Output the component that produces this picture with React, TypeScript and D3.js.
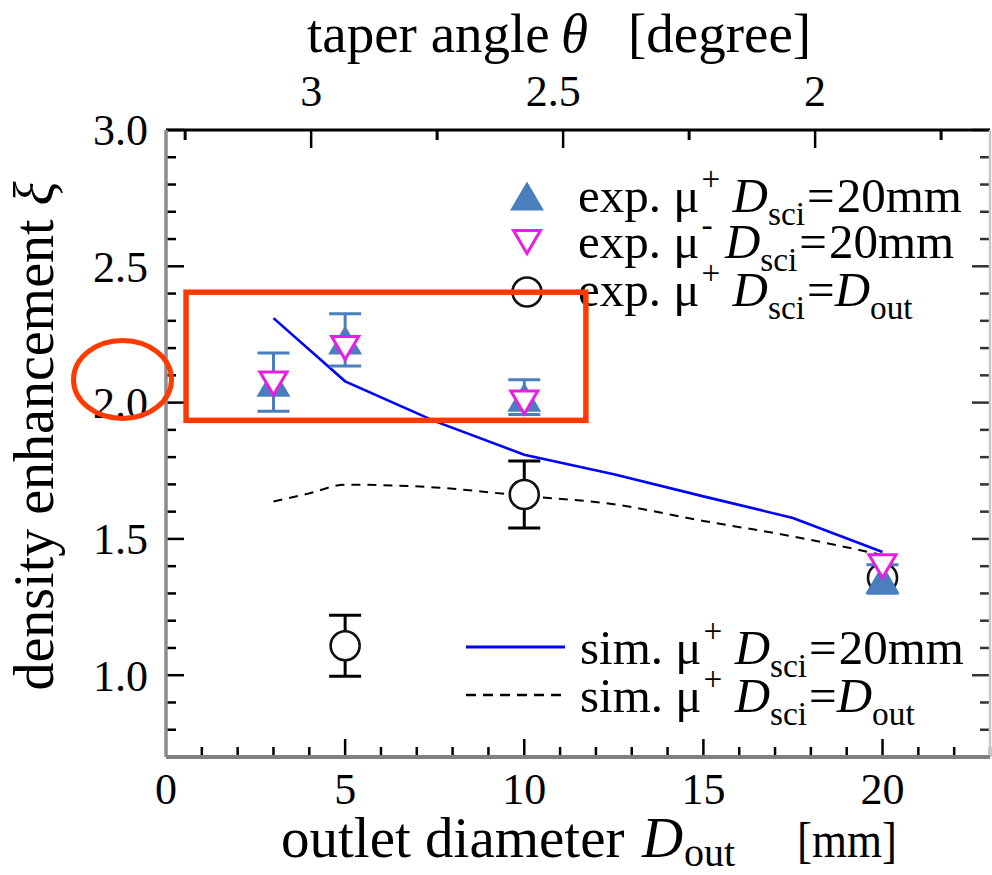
import React from "react";
import * as d3 from "d3";

// outlet diameters [mm] and measured density enhancement
const expD = [3, 5, 10, 20];
const expMuPlus = [2.075, 2.23, 2.02, 1.353];
const expMuPlusErr = [0.107, 0.096, 0.064, 0.052];
const expMuMinus = [2.07, 2.2, 2.0, 1.4];

const expOutD = [5, 10, 20];
const expOutXi = [1.108, 1.663, 1.357];
const expOutErr = [0.112, 0.123, 0];

// simulation curves
const simD20 = [3, 5, 7.5, 10, 12.5, 15, 17.5, 20];
const simXi20 = [2.31, 2.078, 1.932, 1.809, 1.737, 1.656, 1.577, 1.452];
const simDOut = [3, 4, 5, 7.5, 10, 12.5, 15, 17.5, 20];
const simXiOut = [1.637, 1.667, 1.699, 1.689, 1.658, 1.627, 1.566, 1.509, 1.441];

// axes
const xTickLabels = [0, 5, 10, 15, 20];
const yTickLabels = ["1.0", "1.5", "2.0", "2.5", "3.0"];
const topTickLabels = ["3", "2.5", "2"];
const topMinor = [3.25, 2.75, 2.25, 1.75];

const W = 992;
const H = 875;
const L = 166, R = 990, T = 130, B = 757;

const x = d3.scaleLinear().domain([0, 23]).range([L, R]);
const y = d3.scaleLinear().domain([0.7, 3.0]).range([B, T]);
const xTop = d3.scaleLinear().domain([3.288, 1.653]).range([L, R]);

const FONT = "'Liberation Serif', 'Times New Roman', serif";
const BLUE = "#4a7ebc";
const MAG = "#e61ee6";
const RED = "#ff3a00";

const TICK_MAJ = 18;
const TICK_MIN = 10;
const NB = "\u00a0";

function triUp(cx: number, cy: number, w: number, h: number) {
  return `M${cx},${cy - h / 2}L${cx + w / 2},${cy + h / 2}L${cx - w / 2},${cy + h / 2}Z`;
}
function triDown(cx: number, cy: number, w: number, h: number) {
  return `M${cx - w / 2},${cy - h / 2}L${cx + w / 2},${cy - h / 2}L${cx},${cy + h / 2}Z`;
}

function LegendLabel({ xx, yy, pre, sup, post, italicPost, fs }: any) {
  const s = fs * 0.68;
  return (
    <text x={xx} y={yy} fontFamily={FONT} fontSize={fs} fill="#000">
      <tspan>{pre}</tspan>
      <tspan dy={-fs * 0.45} fontSize={s} dx={2}>{sup}</tspan>
      <tspan dy={fs * 0.45}>{NB}</tspan>
      <tspan fontStyle="italic">D</tspan>
      <tspan dy={fs * 0.27} fontSize={s}>sci</tspan>
      <tspan dy={-fs * 0.27} dx={2}>=</tspan>
      {italicPost ? (
        <>
          <tspan fontStyle="italic">D</tspan>
          <tspan dy={fs * 0.27} fontSize={s}>out</tspan>
        </>
      ) : (
        <tspan dx={2}>{post}</tspan>
      )}
    </text>
  );
}

function ErrBar({ cx, v, e, color, capW }: any) {
  if (!e) return null;
  const top = y(v + e);
  const bot = y(v - e);
  return (
    <g stroke={color} strokeWidth={3}>
      <line x1={cx} x2={cx} y1={top} y2={bot} />
      <line x1={cx - capW / 2} x2={cx + capW / 2} y1={top} y2={top} />
      <line x1={cx - capW / 2} x2={cx + capW / 2} y1={bot} y2={bot} />
    </g>
  );
}

export default function App() {
  const yMinor = d3.range(8, 31).map((v) => v / 10);
  const xMinor = d3.range(1, 24);

  const lineSim = d3
    .line<number>()
    .x((_, i) => x(simD20[i]))
    .y((v) => y(v));
  const lineOut = d3
    .line<number>()
    .x((_, i) => x(simDOut[i]))
    .y((v) => y(v))
    .curve(d3.curveMonotoneX);

  const capW = 32;

  return (
    <svg
      width={W}
      height={H}
      style={{ position: "absolute", left: 0, top: 0, background: "#fff" }}
    >
      <rect x={0} y={0} width={W} height={H} fill="#fff" />

      {/* left / right ticks */}
      {yMinor.map((v) => {
        const major = Math.abs(v * 2 - Math.round(v * 2)) < 1e-6;
        const len = major ? TICK_MAJ : TICK_MIN;
        return (
          <g key={"yt" + v}>
            <line x1={L} x2={L + len} y1={y(v)} y2={y(v)} stroke="#000" strokeWidth={2.5} />
            <line x1={R} x2={R - len} y1={y(v)} y2={y(v)} stroke="#333" strokeWidth={2.5} />
          </g>
        );
      })}
      {/* bottom ticks */}
      {xMinor.map((v) => {
        const major = v % 5 === 0;
        const len = major ? TICK_MAJ : TICK_MIN;
        return (
          <line key={"xt" + v} x1={x(v)} x2={x(v)} y1={B} y2={B - len} stroke="#000" strokeWidth={2.5} />
        );
      })}
      {/* top ticks */}
      {topTickLabels.map((t) => (
        <line key={"tt" + t} x1={xTop(+t)} x2={xTop(+t)} y1={T} y2={T + TICK_MAJ} stroke="#000" strokeWidth={2.5} />
      ))}
      {topMinor.map((t) => (
        <line key={"tm" + t} x1={xTop(t)} x2={xTop(t)} y1={T} y2={T + TICK_MIN} stroke="#000" strokeWidth={3} />
      ))}

      {/* frame */}
      <line x1={L} x2={R} y1={T} y2={T} stroke="#000" strokeWidth={3} />
      <line x1={R} x2={R} y1={T} y2={B} stroke="#c8c8c8" strokeWidth={2.5} />
      <line x1={L} x2={L} y1={T} y2={B} stroke="#8c8c8c" strokeWidth={3.5} />
      <line x1={L} x2={R} y1={B} y2={B} stroke="#808080" strokeWidth={4} />

      {/* tick labels */}
      {yTickLabels.map((t) => (
        <text key={"yl" + t} x={148} y={y(+t)} dy="0.35em" textAnchor="end" fontFamily={FONT} fontSize={44}>
          {t}
        </text>
      ))}
      {xTickLabels.map((t) => (
        <text key={"xl" + t} x={x(t)} y={804} textAnchor="middle" fontFamily={FONT} fontSize={44}>
          {t}
        </text>
      ))}
      {topTickLabels.map((t) => (
        <text key={"tl" + t} x={xTop(+t) - (t === "2.5" ? 10 : 0)} y={106} textAnchor="middle" fontFamily={FONT} fontSize={44}>
          {t}
        </text>
      ))}

      {/* axis titles */}
      <g fontFamily={FONT} fontSize={55}>
        <text x={307} y={52}>taper angle</text>
        <text x={561} y={52} fontStyle="italic">θ</text>
        <text x={628} y={52}>[degree]</text>

        <g fontSize={57}>
          <text x={281} y={857}>outlet diameter</text>
          <text x={642} y={857} fontStyle="italic">D</text>
          <text x={684} y={866} fontSize={40}>out</text>
        </g>
        <text x={797} y={857} fontSize={50} textLength={100} lengthAdjust="spacingAndGlyphs">[mm]</text>
      </g>
      <text
        transform={`translate(53,${436}) rotate(-90)`}
        textAnchor="middle"
        fontFamily={FONT}
        fontSize={56}
      >
        density enhancement <tspan fontStyle="italic">ξ</tspan>
      </text>

      {/* simulation curves */}
      <path d={lineOut(simXiOut) || ""} fill="none" stroke="#000" strokeWidth={2} strokeDasharray="9,7" />
      <path d={lineSim(simXi20) || ""} fill="none" stroke="#0000ff" strokeWidth={2.6} />

      {/* exp. mu+ with D_sci = D_out */}
      {expOutD.map((d, i) => (
        <g key={"c" + d}>
          <ErrBar cx={x(d)} v={expOutXi[i]} e={expOutErr[i]} color="#000" capW={capW} />
          <circle cx={x(d)} cy={y(expOutXi[i])} r={14.5} fill="#fff" stroke="#111" strokeWidth={2.6} />
        </g>
      ))}

      {/* exp. mu+ with D_sci = 20 mm */}
      {expD.map((d, i) => (
        <g key={"t" + d}>
          <ErrBar cx={x(d)} v={expMuPlus[i]} e={expMuPlusErr[i]} color={BLUE} capW={capW} />
          <path d={triUp(x(d), y(expMuPlus[i]), 34, 29)} fill={BLUE} />
        </g>
      ))}

      {/* exp. mu- with D_sci = 20 mm */}
      {expD.map((d, i) => (
        <path
          key={"m" + d}
          d={triDown(x(d), y(expMuMinus[i]), 27, 23)}
          fill="#fff"
          stroke={MAG}
          strokeWidth={3}
        />
      ))}

      {/* legend, markers */}
      <path d={triUp(527, 196, 34, 29)} fill={BLUE} />
      <LegendLabel xx={578} yy={212} pre="exp. μ" sup="+" post="20mm" fs={49} />
      <path d={triDown(527, 242, 27, 23)} fill="#fff" stroke={MAG} strokeWidth={3} />
      <LegendLabel xx={578} yy={258} pre="exp. μ" sup="-" post="20mm" fs={49} />
      <circle cx={527} cy={292} r={14.5} fill="#fff" stroke="#111" strokeWidth={2.6} />
      <LegendLabel xx={578} yy={306} pre="exp. μ" sup="+" italicPost fs={49} />

      {/* legend, lines */}
      <line x1={466} x2={565} y1={647} y2={647} stroke="#0000ff" strokeWidth={3} />
      <LegendLabel xx={580} yy={664} pre="sim. μ" sup="+" post="20mm" fs={49} />
      <line x1={466} x2={565} y1={695} y2={695} stroke="#000" strokeWidth={2.5} strokeDasharray="10,7" />
      <LegendLabel xx={580} yy={712} pre="sim. μ" sup="+" italicPost fs={49} />

      {/* highlight marks */}
      <rect
        x={x(0.56)}
        y={y(2.405)}
        width={x(11.72) - x(0.56)}
        height={y(1.935) - y(2.405)}
        fill="none"
        stroke={RED}
        strokeWidth={5.5}
      />
      <ellipse cx={122.5} cy={y(2.085)} rx={49} ry={39} fill="none" stroke={RED} strokeWidth={5} />
    </svg>
  );
}
